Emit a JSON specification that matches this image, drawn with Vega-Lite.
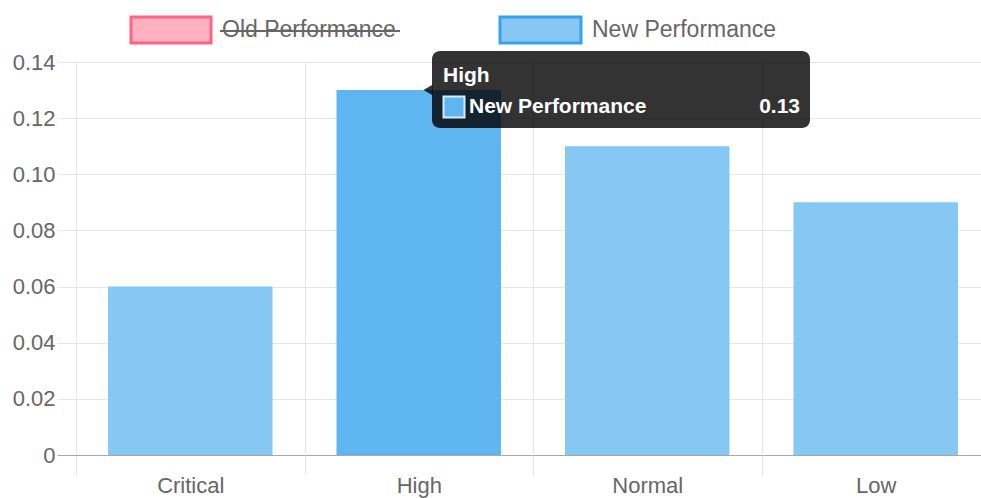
{
  "$schema": "https://vega.github.io/schema/vega-lite/v6.json",
  "autosize": {"type": "none"},
  "padding": {"left": 77, "top": 62, "right": 0, "bottom": 43},
  "width": 904,
  "height": 393,
  "background": "#ffffff",
  "config": {
    "view": {"stroke": null},
    "axis": {"labelFont": "Liberation Sans", "labelFontSize": 22, "labelColor": "#666666"},
    "text": {"font": "Liberation Sans"}
  },
  "resolve": {"scale": {"x": "independent"}, "axis": {"x": "independent"}},
  "layer": [
    {
      "data": {"values": [
        {"cat": "Critical", "value": 0.06, "active": false},
        {"cat": "High", "value": 0.13, "active": true},
        {"cat": "Normal", "value": 0.11, "active": false},
        {"cat": "Low", "value": 0.09, "active": false}
      ]},
      "mark": {"type": "bar", "width": {"band": 0.72}},
      "encoding": {
        "x": {
          "field": "cat", "type": "nominal", "sort": ["Critical", "High", "Normal", "Low"],
          "scale": {"paddingInner": 0, "paddingOuter": 0, "range": [-1, 913]},
          "axis": {
            "title": null, "labelAngle": 0, "tickBand": "extent", "grid": true,
            "gridColor": "#e6e6e6", "tickColor": "#e6e6e6", "tickSize": 20,
            "domain": false, "labelPadding": 0
          }
        },
        "y": {
          "field": "value", "type": "quantitative",
          "scale": {"domain": [0, 0.14], "nice": false},
          "axis": {
            "title": null, "values": [0, 0.02, 0.04, 0.06, 0.08, 0.1, 0.12, 0.14],
            "labelExpr": "datum.value === 0 ? '0' : format(datum.value, '.2f')",
            "grid": true,
            "gridColor": {"condition": {"test": "datum.value === 0", "value": "#a9a9a9"}, "value": "#e6e6e6"},
            "tickColor": {"condition": {"test": "datum.value === 0", "value": "#a9a9a9"}, "value": "#e6e6e6"},
            "tickSize": 20, "domain": false, "labelPadding": 2
          }
        },
        "fill": {"condition": {"test": "datum.active", "value": "#5eb5ef"}, "value": "#86c7f3"}
      }
    },
    {
      "data": {"values": [{"x1": 1.5519, "x2": 3.2044, "y1": 0.14392, "y2": 0.11649}]},
      "mark": {"type": "rect", "cornerRadius": 8, "fill": "#000000", "fillOpacity": 0.8},
      "encoding": {
        "x": {"field": "x1", "type": "quantitative", "scale": {"domain": [0, 4], "range": [0, 915], "nice": false, "zero": false}, "axis": null},
        "x2": {"field": "x2"},
        "y": {"field": "y1", "type": "quantitative"},
        "y2": {"field": "y2"}
      }
    },
    {
      "data": {"values": [{"x": 1.5344, "y": 0.13}]},
      "mark": {"type": "point", "shape": "triangle-left", "filled": true, "fill": "#000000", "fillOpacity": 0.8, "size": 110, "strokeWidth": 0},
      "encoding": {
        "x": {"field": "x", "type": "quantitative", "scale": {"domain": [0, 4], "range": [0, 915], "nice": false, "zero": false}, "axis": null},
        "y": {"field": "y", "type": "quantitative"}
      }
    },
    {
      "data": {"values": [{"x": 1.6481, "y": 0.12397}]},
      "mark": {"type": "point", "shape": "square", "filled": true, "fill": "#5eb5ef", "stroke": "#d6ecfb", "strokeWidth": 2, "size": 440, "opacity": 1},
      "encoding": {
        "x": {"field": "x", "type": "quantitative", "scale": {"domain": [0, 4], "range": [0, 915], "nice": false, "zero": false}, "axis": null},
        "y": {"field": "y", "type": "quantitative"}
      }
    },
    {
      "data": {"values": [
        {"x": 1.6, "y": 0.13501, "label": "High"},
        {"x": 1.7137, "y": 0.12397, "label": "New Performance"}
      ]},
      "mark": {"type": "text", "align": "left", "baseline": "middle", "fontWeight": "bold", "fontSize": 21, "color": "#ffffff"},
      "encoding": {
        "x": {"field": "x", "type": "quantitative", "scale": {"domain": [0, 4], "range": [0, 915], "nice": false, "zero": false}, "axis": null},
        "y": {"field": "y", "type": "quantitative"},
        "text": {"field": "label"}
      }
    },
    {
      "data": {"values": [{"x": 3.1607, "y": 0.12397, "label": "0.13"}]},
      "mark": {"type": "text", "align": "right", "baseline": "middle", "fontWeight": "bold", "fontSize": 21, "color": "#ffffff"},
      "encoding": {
        "x": {"field": "x", "type": "quantitative", "scale": {"domain": [0, 4], "range": [0, 915], "nice": false, "zero": false}, "axis": null},
        "y": {"field": "y", "type": "quantitative"},
        "text": {"field": "label"}
      }
    },
    {
      "data": {"values": [
        {"series": "Old Performance", "x1": 0.2361, "x2": 0.5858, "y1": 0.15603, "y2": 0.14677},
        {"series": "New Performance", "x1": 1.8492, "x2": 2.2033, "y1": 0.15603, "y2": 0.14677}
      ]},
      "mark": {"type": "rect", "strokeWidth": 3},
      "encoding": {
        "x": {"field": "x1", "type": "quantitative", "scale": {"domain": [0, 4], "range": [0, 915], "nice": false, "zero": false}, "axis": null},
        "x2": {"field": "x2"},
        "y": {"field": "y1", "type": "quantitative"},
        "y2": {"field": "y2"},
        "fill": {"field": "series", "type": "nominal", "scale": {"domain": ["Old Performance", "New Performance"], "range": ["#ffb1c1", "#86c7f3"]}, "legend": null},
        "stroke": {"field": "series", "type": "nominal", "scale": {"domain": ["Old Performance", "New Performance"], "range": ["#ff6384", "#36a2eb"]}, "legend": null}
      }
    },
    {
      "data": {"values": [
        {"series": "Old Performance", "x": 0.6339, "y": 0.1514},
        {"series": "New Performance", "x": 2.2514, "y": 0.1514}
      ]},
      "mark": {"type": "text", "align": "left", "baseline": "middle", "fontSize": 23, "color": "#666666"},
      "encoding": {
        "x": {"field": "x", "type": "quantitative", "scale": {"domain": [0, 4], "range": [0, 915], "nice": false, "zero": false}, "axis": null},
        "y": {"field": "y", "type": "quantitative"},
        "text": {"field": "series"}
      }
    },
    {
      "data": {"values": [{"x1": 0.6251, "x2": 1.412, "y": 0.15104}]},
      "mark": {"type": "rule", "color": "#666666", "strokeWidth": 2},
      "encoding": {
        "x": {"field": "x1", "type": "quantitative", "scale": {"domain": [0, 4], "range": [0, 915], "nice": false, "zero": false}, "axis": null},
        "x2": {"field": "x2"},
        "y": {"field": "y", "type": "quantitative"}
      }
    }
  ]
}
